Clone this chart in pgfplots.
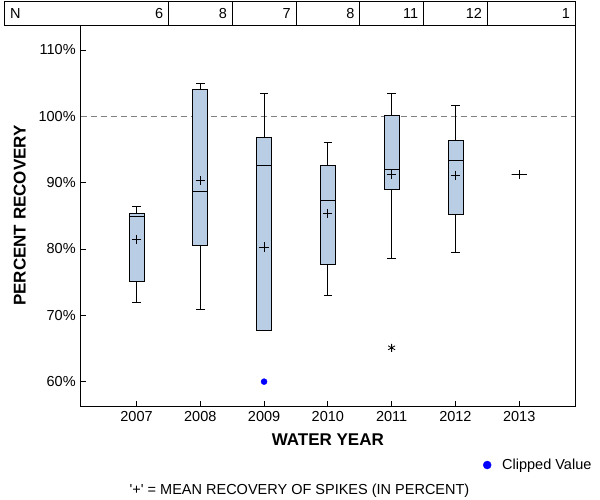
\documentclass[border=0pt]{standalone}
\usepackage{pgfplots}
\pgfplotsset{compat=1.18}
\usepackage{fontspec}
\setmainfont{Liberation Sans}
\definecolor{boxfill}{RGB}{185,205,229}
\definecolor{refgray}{RGB}{128,128,128}
\begin{document}
\fontsize{14.5}{17}\selectfont
\begin{tikzpicture}[x=1pt,y=1pt]
\useasboundingbox (0,0) rectangle (600,500);
\begin{axis}[
  at={(80.7pt,94pt)}, anchor=south west,
  scale only axis, width=494.3pt, height=381pt,
  xmin=-0.875, xmax=6.875, ymin=56.33, ymax=113.76,
  clip=false,
  axis line style={black, line width=0.8pt},
  xtick={0,1,2,3,4,5,6},
  xticklabels={2007,2008,2009,2010,2011,2012,2013},
  ytick={60,70,80,90,100,110},
  yticklabel={\pgfmathprintnumber{\tick}\%},
  /pgf/number format/assume math mode=true,
  ticklabel style={font=\fontsize{14.5}{17}\selectfont},
  tick align=inside, major tick length=5pt,
  tick style={black, line width=0.8pt},
  xtick pos=left, ytick pos=left,
  minor tick num=0,
  xlabel={\textbf{WATER YEAR}},
  ylabel={\textbf{PERCENT RECOVERY}},
  every axis x label/.style={at={(axis description cs:0.5,0)}, yshift=-34pt, anchor=center, font=\fontsize{17}{20}\selectfont},
  every axis y label/.style={at={(axis description cs:0,0.5)}, xshift=-61pt, rotate=90, anchor=center, font=\fontsize{17}{20}\selectfont},
  legend style={at={(axis description cs:0.8139,-0.1549)}, anchor=west, draw=none, fill=none, inner sep=0pt, outer sep=0pt, font=\fontsize{14.5}{17}\selectfont},
  legend image code/.code={\fill[blue] (0pt,0pt) circle (4pt); \path[draw=none,fill=none] (-4pt,-0.1pt) rectangle (13pt,0.1pt);},
]
% reference line at 100%
\addplot[refgray, line width=0.8pt, dash pattern=on 6pt off 4pt, forget plot] coordinates {(-0.875,100) (6.875,100)};
% whiskers: from lower whisker to upper whisker (centre = lower quartile)
\addplot[draw=none, mark=none, forget plot,
  error bars/.cd, y dir=both, y explicit,
  error bar style={draw=black, line width=0.8pt},
  error mark options={rotate=90, draw=black, line width=0.8pt, mark size=4.3pt}]
  coordinates {
  (0,75.1) += (0,11.3) -= (0,3.2)
  (1,80.5) += (0,24.4) -= (0,9.6)
  (2,67.7) += (0,35.7) -= (0,0)
  (3,77.65) += (0,18.35) -= (0,4.65)
  (4,89.0) += (0,14.4) -= (0,10.45)
  (5,85.2) += (0,16.5) -= (0,5.75)
  (6,91.2) += (0,0) -= (0,0)
  };
% boxes (lower quartile to upper quartile)
\addplot[black, fill=boxfill, line width=0.8pt, forget plot] coordinates {(-0.1175,75.1) (0.1175,75.1) (0.1175,85.3) (-0.1175,85.3)} -- cycle;
\addplot[black, fill=boxfill, line width=0.8pt, forget plot] coordinates {(0.8825,80.5) (1.1175,80.5) (1.1175,104.0) (0.8825,104.0)} -- cycle;
\addplot[black, fill=boxfill, line width=0.8pt, forget plot] coordinates {(1.8825,67.7) (2.1175,67.7) (2.1175,96.8) (1.8825,96.8)} -- cycle;
\addplot[black, fill=boxfill, line width=0.8pt, forget plot] coordinates {(2.8825,77.65) (3.1175,77.65) (3.1175,92.6) (2.8825,92.6)} -- cycle;
\addplot[black, fill=boxfill, line width=0.8pt, forget plot] coordinates {(3.8825,89.0) (4.1175,89.0) (4.1175,100.1) (3.8825,100.1)} -- cycle;
\addplot[black, fill=boxfill, line width=0.8pt, forget plot] coordinates {(4.8825,85.2) (5.1175,85.2) (5.1175,96.3) (4.8825,96.3)} -- cycle;
\addplot[black, fill=boxfill, line width=0.8pt, forget plot] coordinates {(5.8825,91.2) (6.1175,91.2) (6.1175,91.2) (5.8825,91.2)} -- cycle;
% medians
\addplot[draw=none, mark=none, forget plot,
  error bars/.cd, x dir=both, x explicit, error mark=none,
  error bar style={draw=black, line width=0.8pt}]
  coordinates {
  (0,84.9) +- (0.1175,0)
  (1,88.65) +- (0.1175,0)
  (2,92.6) +- (0.1175,0)
  (3,87.3) +- (0.1175,0)
  (4,92.0) +- (0.1175,0)
  (5,93.3) +- (0.1175,0)
  (6,91.2) +- (0.1175,0)
  };
% means
\addplot[only marks, mark=+, mark size=4.6pt, black, mark options={line width=0.8pt}, forget plot] coordinates {(0,81.4) (1,90.3) (2,80.3) (3,85.4) (4,91.2) (5,91.1) (6,91.2)};
% outlier
\addplot[only marks, mark=asterisk, mark size=4pt, black, mark options={line width=0.8pt}, forget plot] coordinates {(4,65.1)};
% clipped value
\addplot[only marks, mark=*, mark size=3pt, blue, mark options={draw=blue, fill=blue}] coordinates {(2,60)};
\addlegendentry{Clipped Value}
% N table
\draw[black, line width=0.8pt] (axis cs:-2.077,113.76) rectangle (axis cs:6.875,117.38);
\draw[black, line width=0.8pt] (axis cs:0.5,113.76) -- (axis cs:0.5,117.38);
\draw[black, line width=0.8pt] (axis cs:1.5,113.76) -- (axis cs:1.5,117.38);
\draw[black, line width=0.8pt] (axis cs:2.5,113.76) -- (axis cs:2.5,117.38);
\draw[black, line width=0.8pt] (axis cs:3.5,113.76) -- (axis cs:3.5,117.38);
\draw[black, line width=0.8pt] (axis cs:4.5,113.76) -- (axis cs:4.5,117.38);
\draw[black, line width=0.8pt] (axis cs:5.5,113.76) -- (axis cs:5.5,117.38);
\node[anchor=base west, inner sep=0pt] at (axis cs:-1.983,114.79) {N};
\node[anchor=base east, inner sep=0pt] at (axis cs:0.42,114.79) {6};
\node[anchor=base east, inner sep=0pt] at (axis cs:1.42,114.79) {8};
\node[anchor=base east, inner sep=0pt] at (axis cs:2.42,114.79) {7};
\node[anchor=base east, inner sep=0pt] at (axis cs:3.42,114.79) {8};
\node[anchor=base east, inner sep=0pt] at (axis cs:4.42,114.79) {11};
\node[anchor=base east, inner sep=0pt] at (axis cs:5.42,114.79) {12};
\node[anchor=base east, inner sep=0pt] at (axis cs:6.80,114.79) {1};
\end{axis}
\node[anchor=center] at (299.5,9) {\textquotesingle+\textquotesingle\ = MEAN RECOVERY OF SPIKES (IN PERCENT)};
\end{tikzpicture}
\end{document}
